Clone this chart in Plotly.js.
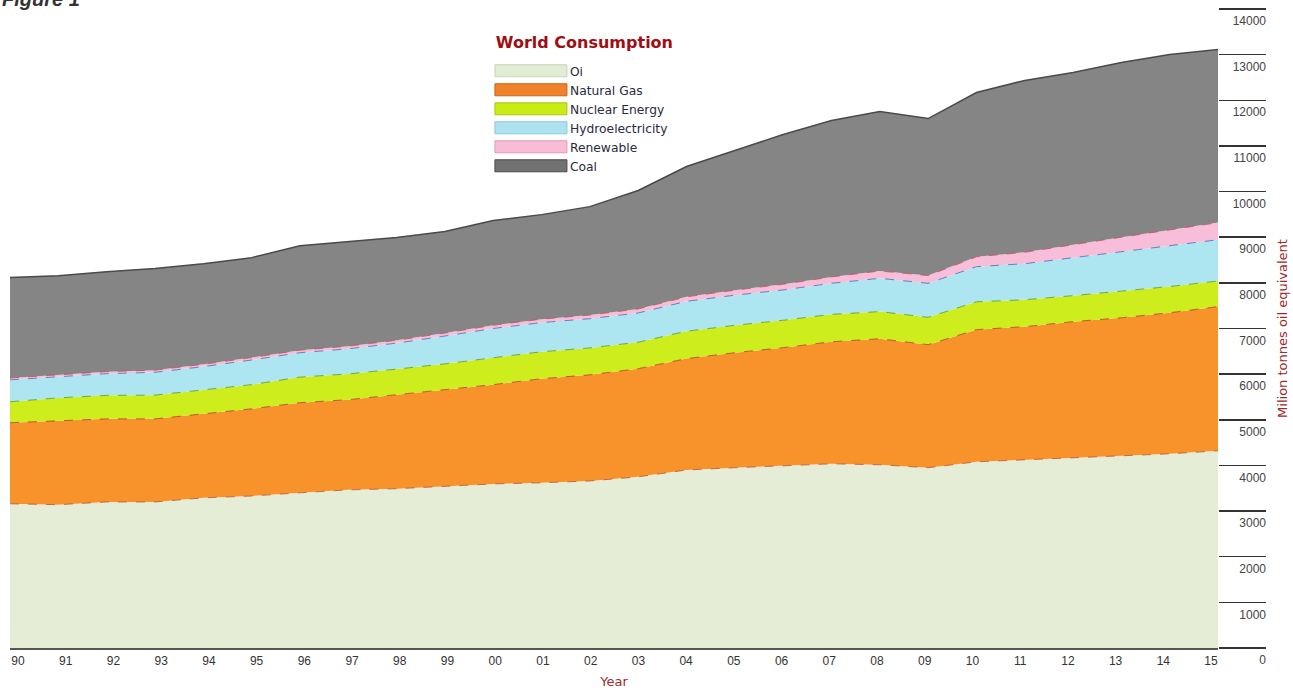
<!DOCTYPE html>
<html>
<head>
<meta charset="utf-8">
<script src="https://cdn.plot.ly/plotly-3.0.1.min.js"></script>
<style>
html,body{margin:0;padding:0;background:#fff;}
#chart{width:1293px;height:690px;}
</style>
</head>
<body>
<div id="chart"></div>
<script>
// ---- Data (million tonnes oil equivalent) ----
const years = ['90','91','92','93','94','95','96','97','98','99','00','01','02','03','04','05','06','07','08','09','10','11','12','13','14','15'];
const oil        = [3160,3140,3200,3200,3290,3330,3400,3465,3490,3550,3595,3620,3660,3750,3900,3950,3990,4035,4015,3950,4080,4120,4165,4210,4255,4320];
const naturalGas = [1775,1840,1820,1820,1840,1910,1975,1975,2060,2110,2175,2280,2325,2370,2440,2520,2590,2675,2760,2695,2895,2920,2985,3025,3090,3160];
const nuclear    = [460,500,515,520,525,530,560,565,560,565,590,590,590,580,600,600,600,600,595,600,610,590,570,580,575,560];
const hydro      = [480,470,475,500,510,540,535,550,570,610,640,640,640,640,655,660,665,680,730,745,770,790,830,855,880,905];
const renewable  = [40,42,45,47,50,52,55,58,62,65,70,75,80,88,98,110,125,140,160,170,215,250,290,330,360,375];
const coal       = [2200,2165,2190,2225,2205,2190,2290,2290,2250,2225,2295,2290,2375,2595,2855,3060,3280,3425,3495,3440,3600,3765,3770,3830,3845,3795];
const seriesNames = ['Oi','Natural Gas','Nuclear Energy','Hydroelectricity','Renewable','Coal'];
const yTicks = [0,1000,2000,3000,4000,5000,6000,7000,8000,9000,10000,11000,12000,13000,14000];

const seriesData = [oil, naturalGas, nuclear, hydro, renewable, coal];
const fills = ['#e6edd6','#f8932c','#cdee1c','#ade6f0','#f8bed9','#858585'];
const lines = ['#b5533a','#a8401c','#4f9a2a','#4a6aa8','#c84a5a','#4a4a4a'];
const swatchFill = ['#e2ebd3','#f0832a','#c9ec16','#ade3ef','#f9bbd6','#727272'];
const swatchEdge = ['#c9d3b8','#c8641c','#a8c810','#8cc8d8','#e09ab8','#4a4a4a'];
const dashes = ['dash','dash','dash','dash','dash','solid'];

const traces = seriesData.map((vals, k) => ({
  type: 'scatter',
  mode: 'lines',
  name: seriesNames[k],
  x: years,
  y: vals,
  stackgroup: 'one',
  fillcolor: fills[k],
  line: {color: lines[k], width: k === 5 ? 1.5 : 0.8, dash: dashes[k], shape: 'linear'},
  hoverinfo: 'x+y+name'
}));

// helper trace (draws nothing) so the label axes x2 / y2 are built
traces.push({
  type: 'scatter', mode: 'none', x: [0], y: [0],
  xaxis: 'x2', yaxis: 'y2', showlegend: false, hoverinfo: 'skip'
});

const FONT = '"Liberation Sans", Arial, sans-serif';
const DJ = '"DejaVu Sans", sans-serif';

const layout = {
  width: 1293,
  height: 690,
  margin: {l: 10, r: 25, t: 9, b: 42, pad: 0},
  paper_bgcolor: '#ffffff',
  plot_bgcolor: '#ffffff',
  showlegend: true,
  title: {
    text: 'World Consumption',
    font: {family: DJ, size: 16, color: '#a00d12', weight: 'bold'},
    x: 0.452, xref: 'container', xanchor: 'center',
    y: 0.939, yref: 'container', yanchor: 'middle'
  },
  legend: {
    x: 0.3815, y: 0.926, xanchor: 'left', yanchor: 'top',
    bgcolor: 'rgba(0,0,0,0)',
    font: {family: DJ, size: 12.3, color: '#2a2a40'},
    itemwidth: 70,
    traceorder: 'normal',
    tracegroupgap: 0
  },
  xaxis: {
    type: 'category',
    range: [0, 25],
    domain: [0, 0.9603],
    showticklabels: false,
    ticks: '',
    showline: true,
    linecolor: '#555555',
    linewidth: 2,
    showgrid: false,
    zeroline: false,
    fixedrange: true
  },
  xaxis2: {
    overlaying: 'x',
    anchor: 'y',
    side: 'bottom',
    range: [-0.168, 25.147],
    tickmode: 'array',
    tickvals: years.map((_, i) => i),
    ticktext: years,
    ticks: '',
    showline: false,
    showgrid: false,
    zeroline: false,
    ticklabelstandoff: 4,
    tickfont: {family: FONT, size: 12, color: '#333333'},
    title: {text: 'Year', font: {family: DJ, size: 13, color: '#a0282a'}, standoff: 9}
  },
  yaxis: {
    range: [0, 14000],
    side: 'right',
    tickmode: 'array',
    tickvals: yTicks,
    ticks: 'outside',
    ticklen: 47,
    tickwidth: 1.5,
    tickcolor: '#333333',
    showticklabels: false,
    showline: false,
    showgrid: false,
    zeroline: false,
    title: {text: 'Milion tonnes oil equivalent', font: {family: DJ, size: 13, color: '#a0282a'}, standoff: 12}
  },
  yaxis2: {
    overlaying: 'y',
    anchor: 'free',
    position: 1,
    side: 'left',
    range: [0, 14000],
    tickmode: 'array',
    tickvals: yTicks,
    ticktext: yTicks.map(String),
    ticks: '',
    showline: false,
    showgrid: false,
    zeroline: false,
    ticklabelshift: 12,
    ticklabelstandoff: 2,
    tickfont: {family: FONT, size: 12, color: '#444444'}
  },
  annotations: [{
    text: '<b><i>Figure 1</i></b>',
    xref: 'paper', yref: 'paper',
    x: -0.0079, y: 1.0157, xanchor: 'left', yanchor: 'middle',
    showarrow: false,
    font: {family: FONT, size: 20, color: '#333333'}
  }]
};

Plotly.newPlot('chart', traces, layout, {displayModeBar: false, staticPlot: true}).then(gd => {
  // legend swatches as solid boxes like the original
  gd.querySelectorAll('.legend .traces').forEach(g => {
    const d = g.__data__ && g.__data__[0];
    const idx = d && d.trace ? d.trace.index : -1;
    if (idx < 0 || idx > 5) return;
    const f = g.querySelector('.legendfill path');
    if (f) {
      f.setAttribute('d', 'M5,-6h72v12h-72z');
      f.style.fill = swatchFill[idx];
      f.style.stroke = swatchEdge[idx];
      f.style.strokeWidth = '1px';
    }
    g.querySelectorAll('.legendlines path').forEach(p => { p.style.display = 'none'; });
  });
});
</script>
</body>
</html>
